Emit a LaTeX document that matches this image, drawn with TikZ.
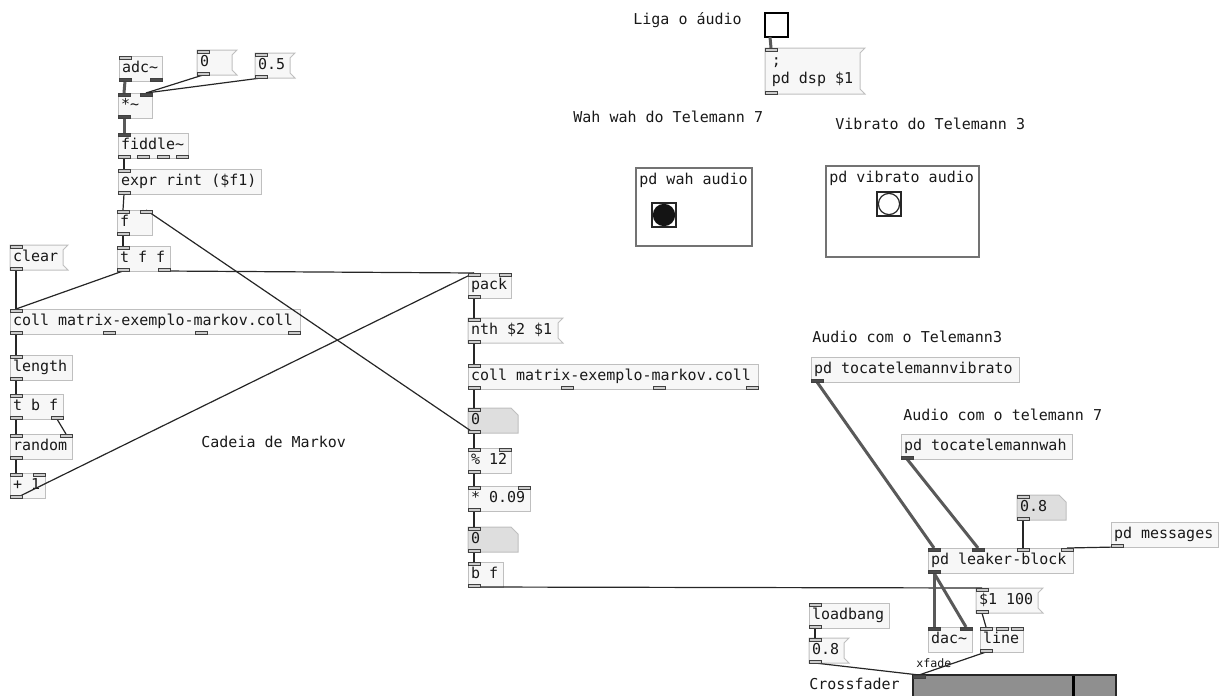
\documentclass[tikz,border=0pt]{standalone}
\usepackage{fontspec}
\newfontfamily\pdmono{DejaVu Sans Mono}
\newcommand{\pdtext}{\pdmono\fontsize{7.5}{9}\selectfont}
\usetikzlibrary{calc,backgrounds}

\tikzset{
  pdbox/.style={draw=black!25, fill=black!3, line width=0.5pt, anchor=north west,
    inner xsep=1.5pt, inner ysep=0pt, outer sep=0pt, minimum height=12.5pt,
    text=black!90, font=\pdtext},
  pdmsg/.style={pdbox, draw=none, fill=none},
  msgline/.style={draw=black!25, fill=black!3, line width=0.5pt},
  atomline/.style={draw=black!25, fill=black!13, line width=0.5pt},
  portctl/.style={draw=black!75, fill=black!20, line width=0.4pt},
  portsig/.style={draw=black!75, fill=black!70, line width=0.4pt},
  wirectl/.style={draw=black!85, line width=0.6pt},
  wiresig/.style={draw=black!65, line width=1.5pt},
  comment/.style={anchor=west, inner sep=0pt, text=black!90, font=\pdtext},
  gop/.style={draw=black!55, line width=0.6pt, anchor=north west, inner sep=0pt, outer sep=0pt},
  bangbox/.style={draw=black!85, line width=0.6pt, anchor=north west, inner sep=0pt, outer sep=0pt},
}

% box with name, position, width (px) and text
\newcommand{\pdobj}[5][pdbox]{%
  \pgfmathsetlengthmacro{\pdw}{#4*0.5pt-3pt}%
  \node[#1] (#2) at (#3) {\makebox[\pdw][l]{\strut#5}};}
% message flag and number box outline
\newcommand{\msgflag}[1]{%
  \begin{pgfonlayer}{background}
    \path[msgline] (#1.north west) -- ($(#1.north east)+(5,0)$) -- ($(#1.north east)+(0,5)$)
      -- ($(#1.south east)+(0,-5)$) -- ($(#1.south east)+(5,0)$) -- (#1.south west) -- cycle;
  \end{pgfonlayer}}
\newcommand{\atomshape}[1]{%
  \begin{pgfonlayer}{background}
    \path[atomline] (#1.north west) -- ($(#1.north east)+(-7,0)$) -- ($(#1.north east)+(0,7)$)
      -- (#1.south east) -- (#1.south west) -- cycle;
  \end{pgfonlayer}}
% inlets, outlets and patch cords
\newcommand{\pin}[3][ctl]{\draw[port#1] ($(#2.north west)+(#3,0)$) rectangle ++(12,3);}
\newcommand{\pout}[3][ctl]{\draw[port#1] ($(#2.south west)+(#3,-3)$) rectangle ++(12,3);}
\newcommand{\wire}[5][ctl]{\draw[wire#1] ($(#2.south west)+(#3+6,0)$) -- ($(#4.north west)+(#5+6,0)$);}

\begin{document}
\begin{tikzpicture}[x=0.5pt, y=-0.5pt]
\useasboundingbox (0,0) rectangle (1222,696);

% pitch tracking
\pdobj{adc}{119,56}{43}{adc\textasciitilde}
\pdobj[pdmsg]{zero}{197,50}{35}{0}
\pdobj[pdmsg]{half}{255,53}{35}{0.5}
\msgflag{zero} \msgflag{half}
\pdobj{mult}{118,93}{34}{*\textasciitilde}
\pdobj{fiddle}{118,133}{70}{fiddle\textasciitilde}
\pdobj{expr}{118,169}{143}{expr rint (\$f1)}
\pdobj{fbox}{117,210}{35}{f}
\pdobj{tff}{117,246}{53}{t f f}

% markov chain
\pdobj[pdmsg]{clear}{10,245}{53}{clear}
\msgflag{clear}
\pdobj{collA}{10,309}{290}{coll matrix-exemplo-markov.coll}
\pdobj{length}{10,355}{62}{length}
\pdobj{tbf}{10,394}{53}{t b f}
\pdobj{random}{10,434}{62}{random}
\pdobj{plusone}{10,473}{35}{+ 1}
\node[comment] at (201,442) {Cadeia de Markov};

\pdobj{pack}{468,273}{43}{pack}
\pdobj[pdmsg]{nth}{468,318}{90}{nth \$2 \$1}
\msgflag{nth}
\pdobj{collB}{468,364}{290}{coll matrix-exemplo-markov.coll}
\pdobj[pdmsg]{numA}{468,408}{50}{0}
\atomshape{numA}
\pdobj{mod}{468,448}{43}{\% 12}
\pdobj{mulB}{468,486}{62}{* 0.09}
\pdobj[pdmsg]{numB}{468,527}{50}{0}
\atomshape{numB}
\pdobj{bf}{468,562}{35}{b f}

% dsp switch
\node[comment] at (633,20) {Liga o áudio};
\node[bangbox, draw=black, line width=1pt, minimum width=11.5pt, minimum height=12pt] (toggle) at (765,13) {};
\node[pdmsg, minimum width=47.5pt, minimum height=23pt] (dsp) at (765,48)
  {\begin{tabular}{@{}l@{}};\\pd dsp \$1\end{tabular}};
\msgflag{dsp}

% effect sub-patches
\node[comment] at (573,117) {Wah wah do Telemann 7};
\node[comment] at (835,124) {Vibrato do Telemann 3};
\node[gop, minimum width=58pt, minimum height=39pt] (wahgop) at (636,168) {};
\node[comment] at ($(wahgop.north west)+(3,12)$) {pd wah audio};
\node[bangbox, minimum size=12pt] (wahbang) at (652,203) {};
\fill[black!92] (wahbang.center) circle (5.6pt);
\node[gop, minimum width=76.5pt, minimum height=45.5pt] (vibgop) at (826,166) {};
\node[comment] at ($(vibgop.north west)+(3,12)$) {pd vibrato audio};
\node[bangbox, minimum size=12pt] (vibbang) at (877,192) {};
\draw[black!85, line width=0.6pt] (vibbang.center) circle (5.3pt);

% audio output
\node[comment] at (812,337) {Audio com o Telemann3};
\pdobj{vibr}{811,357}{208}{pd tocatelemannvibrato}
\node[comment] at (903,415) {Audio com o telemann 7};
\pdobj{wah}{901,434}{171}{pd tocatelemannwah}
\pdobj[pdmsg]{numC}{1017,495}{49}{0.8}
\atomshape{numC}
\pdobj{msgs}{1111,522}{107}{pd messages}
\pdobj{leaker}{928,548}{145}{pd leaker-block}
\pdobj[pdmsg]{dollar}{976,588}{62}{\$1 100}
\msgflag{dollar}
\pdobj{loadbang}{809,603}{80}{loadbang}
\pdobj[pdmsg]{eight}{809,638}{35}{0.8}
\msgflag{eight}
\pdobj{dac}{928,627}{44}{dac\textasciitilde}
\pdobj{line}{980,627}{43}{line}
\node[comment] at (809,684) {Crossfader};
\node[comment, font=\pdmono\fontsize{5.8}{7}\selectfont] at (916,663) {xfade};
\node[draw=black!85, fill=black!44, line width=0.8pt, anchor=north west, inner sep=0pt, outer sep=0pt,
  minimum width=101.5pt, minimum height=16pt] (slider) at (913,675) {};
\fill[black] ($(slider.north west)+(159,1)$) rectangle ++(3,40);

% patch cords
\wire[sig]{adc}{0}{mult}{0}
\wire{zero}{0}{mult}{22}
\wire{half}{0}{mult}{22}
\wire[sig]{mult}{0}{fiddle}{0}
\wire{fiddle}{0}{expr}{0}
\wire{expr}{0}{fbox}{0}
\wire{fbox}{0}{tff}{0}
\wire{tff}{0}{collA}{0}
\wire{tff}{41}{pack}{0}
\wire{clear}{0}{collA}{0}
\wire{collA}{0}{length}{0}
\wire{length}{0}{tbf}{0}
\wire{tbf}{0}{random}{0}
\wire{tbf}{41}{random}{50}
\wire{random}{0}{plusone}{0}
\wire{plusone}{0}{pack}{0}
\wire{pack}{0}{nth}{0}
\wire{nth}{0}{collB}{0}
\wire{collB}{0}{numA}{0}
\wire{numA}{0}{fbox}{23}
\wire{numA}{0}{mod}{0}
\wire{mod}{0}{mulB}{0}
\wire{mulB}{0}{numB}{0}
\wire{numB}{0}{bf}{0}
\wire{bf}{0}{dollar}{0}
\wire[sig]{toggle}{-1}{dsp}{0}
\wire[sig]{vibr}{0}{leaker}{0}
\wire[sig]{wah}{0}{leaker}{44}
\wire{numC}{0}{leaker}{89}
\wire{msgs}{0}{leaker}{133}
\wire[sig]{leaker}{0}{dac}{0}
\wire[sig]{leaker}{0}{dac}{32}
\wire{dollar}{0}{line}{0}
\wire{loadbang}{0}{eight}{0}
\wire{eight}{0}{slider}{0}
\wire{line}{0}{slider}{0}

% inlets and outlets
\pin{adc}{0} \pout[sig]{adc}{0} \pout[sig]{adc}{31}
\pin{zero}{0} \pout{zero}{0}
\pin{half}{0} \pout{half}{0}
\pin[sig]{mult}{0} \pin[sig]{mult}{22} \pout[sig]{mult}{0}
\pin[sig]{fiddle}{0}
\foreach \o in {0,19,39,58} {\pout{fiddle}{\o}}
\pin{expr}{0} \pout{expr}{0}
\pin{fbox}{0} \pin{fbox}{23} \pout{fbox}{0}
\pin{tff}{0} \pout{tff}{0} \pout{tff}{41}
\pin{clear}{0} \pout{clear}{0}
\pin{collA}{0}
\foreach \o in {0,93,185,278} {\pout{collA}{\o}}
\pin{length}{0} \pout{length}{0}
\pin{tbf}{0} \pout{tbf}{0} \pout{tbf}{41}
\pin{random}{0} \pin{random}{50} \pout{random}{0}
\pin{plusone}{0} \pin{plusone}{23} \pout{plusone}{0}
\pin{pack}{0} \pin{pack}{31} \pout{pack}{0}
\pin{nth}{0} \pout{nth}{0}
\pin{collB}{0}
\foreach \o in {0,93,185,278} {\pout{collB}{\o}}
\pin{numA}{0} \pout{numA}{0}
\pin{mod}{0} \pin{mod}{31} \pout{mod}{0}
\pin{mulB}{0} \pin{mulB}{50} \pout{mulB}{0}
\pin{numB}{0} \pout{numB}{0}
\pin{bf}{0} \pout{bf}{0}
\pin{dsp}{0} \pout{dsp}{0}
\pout[sig]{vibr}{0}
\pout[sig]{wah}{0}
\pin{numC}{0} \pout{numC}{0}
\pout{msgs}{0}
\pin[sig]{leaker}{0} \pin[sig]{leaker}{44} \pin{leaker}{89} \pin{leaker}{133} \pout[sig]{leaker}{0}
\pin{dollar}{0} \pout{dollar}{0}
\pin{loadbang}{0} \pout{loadbang}{0}
\pin{eight}{0} \pout{eight}{0}
\pin[sig]{dac}{0} \pin[sig]{dac}{32}
\foreach \o in {0,16,31} {\pin{line}{\o}}
\pout{line}{0}
\pin[sig]{slider}{0}
\end{tikzpicture}
\end{document}
